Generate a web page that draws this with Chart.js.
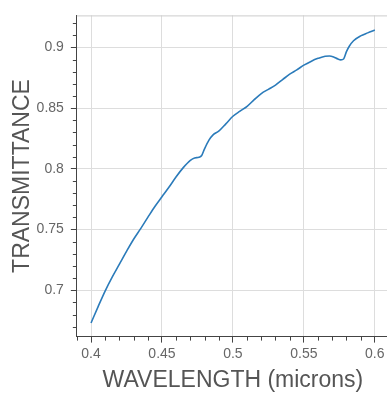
<!DOCTYPE html>
<html>
<head>
<meta charset="utf-8">
<script src="https://cdn.jsdelivr.net/npm/chart.js@4"></script>
<style>
  html, body { margin: 0; padding: 0; background: #fff; overflow: hidden; }
</style>
</head>
<body>
<canvas id="myChart" width="390" height="394"></canvas>
<script>
// wavelength (microns) and measured transmittance
const wavelength = [0.400, 0.405, 0.410, 0.415, 0.420, 0.425, 0.430, 0.435, 0.440, 0.445,
                    0.450, 0.455, 0.460, 0.465, 0.470, 0.473, 0.476, 0.478, 0.480, 0.483,
                    0.486, 0.490, 0.495, 0.500, 0.505, 0.510, 0.515, 0.520, 0.525, 0.530,
                    0.535, 0.540, 0.545, 0.550, 0.555, 0.560, 0.565, 0.568, 0.571, 0.574,
                    0.576, 0.578, 0.580, 0.582, 0.585, 0.590, 0.595, 0.600];
const transmittance = [0.673, 0.6865, 0.6995, 0.711, 0.7215, 0.732, 0.742, 0.7508, 0.760, 0.769,
                       0.777, 0.785, 0.7935, 0.801, 0.807, 0.809, 0.8095, 0.811, 0.8165, 0.8235,
                       0.828, 0.831, 0.837, 0.8433, 0.8475, 0.8515, 0.857, 0.862, 0.8655, 0.869,
                       0.8735, 0.878, 0.8815, 0.8854, 0.8885, 0.891, 0.8928, 0.893, 0.8922, 0.8905,
                       0.8898, 0.8905, 0.8965, 0.901, 0.9055, 0.9095, 0.912, 0.9143];
const xTicks = [0.4, 0.45, 0.5, 0.55, 0.6];
const yTicks = [0.7, 0.75, 0.8, 0.85, 0.9];

const axisColor = '#444444';
const fmt = v => String(+v.toFixed(2));

// minor ticks (4 between majors) and the grey frame on top, bokeh style
const axisExtras = {
    id: 'axisExtras',
    afterDraw(chart) {
        const ctx = chart.ctx, a = chart.chartArea;
        const xs = chart.scales.x, ys = chart.scales.y;
        ctx.save();
        ctx.strokeStyle = '#cccccc';
        ctx.lineWidth = 1;
        ctx.beginPath();
        ctx.moveTo(a.left, a.top + 0.5);
        ctx.lineTo(a.right, a.top + 0.5);
        ctx.stroke();

        ctx.strokeStyle = axisColor;
        ctx.beginPath();
        for (let i = Math.ceil(xs.min * 100 - 1e-6); i <= Math.floor(xs.max * 100 + 1e-6); i++) {
            if (i % 5 === 0) continue;
            const px = Math.round(xs.getPixelForValue(i / 100)) + 0.5;
            ctx.moveTo(px, a.bottom);
            ctx.lineTo(px, a.bottom + 4);
        }
        for (let i = Math.ceil(ys.min * 100 - 1e-6); i <= Math.floor(ys.max * 100 + 1e-6); i++) {
            if (i % 5 === 0) continue;
            const py = Math.round(ys.getPixelForValue(i / 100)) + 0.5;
            ctx.moveTo(a.left, py);
            ctx.lineTo(a.left - 4, py);
        }
        ctx.stroke();
        ctx.restore();
    }
};

const chartData = {
    datasets: [{
        data: wavelength.map((w, i) => ({ x: w, y: transmittance[i] })),
        borderColor: '#2b7bba',
        borderWidth: 1.6,
        pointRadius: 0,
        cubicInterpolationMode: 'monotone',
        fill: false
    }]
};

const config = {
    type: 'line',
    data: chartData,
    options: {
        responsive: false,
        devicePixelRatio: 1,
        animation: false,
        layout: { padding: { top: 15, right: 1, left: 0, bottom: 0 } },
        plugins: {
            legend: { display: false },
            tooltip: { enabled: false }
        },
        scales: {
            x: {
                type: 'linear',
                min: 0.39,
                max: 0.61,
                afterBuildTicks: s => { s.ticks = xTicks.map(v => ({ value: v })); },
                grid: { color: '#dddddd', tickColor: axisColor, tickLength: 6 },
                border: { color: axisColor, width: 1 },
                ticks: {
                    color: '#666666',
                    padding: 3,
                    maxRotation: 0,
                    font: { family: 'Liberation Sans, Arial, sans-serif', size: 14 },
                    callback: v => fmt(v)
                },
                title: {
                    display: true,
                    text: 'WAVELENGTH (microns)',
                    color: '#555555',
                    padding: { top: 1, bottom: 0 },
                    font: { family: 'Liberation Sans, Arial, sans-serif', size: 23 }
                }
            },
            y: {
                type: 'linear',
                min: 0.6618,
                max: 0.9264,
                afterBuildTicks: s => { s.ticks = yTicks.map(v => ({ value: v })); },
                grid: { color: '#dddddd', tickColor: axisColor, tickLength: 6 },
                border: { color: axisColor, width: 1 },
                ticks: {
                    color: '#666666',
                    padding: 7,
                    font: { family: 'Liberation Sans, Arial, sans-serif', size: 14 },
                    callback: v => fmt(v)
                },
                title: {
                    display: true,
                    text: 'TRANSMITTANCE',
                    color: '#555555',
                    padding: { top: 9, bottom: -7 },
                    font: { family: 'Liberation Sans, Arial, sans-serif', size: 23 }
                }
            }
        }
    },
    plugins: [axisExtras]
};

const ctx = document.getElementById('myChart').getContext('2d');
new Chart(ctx, config);
</script>
</body>
</html>
